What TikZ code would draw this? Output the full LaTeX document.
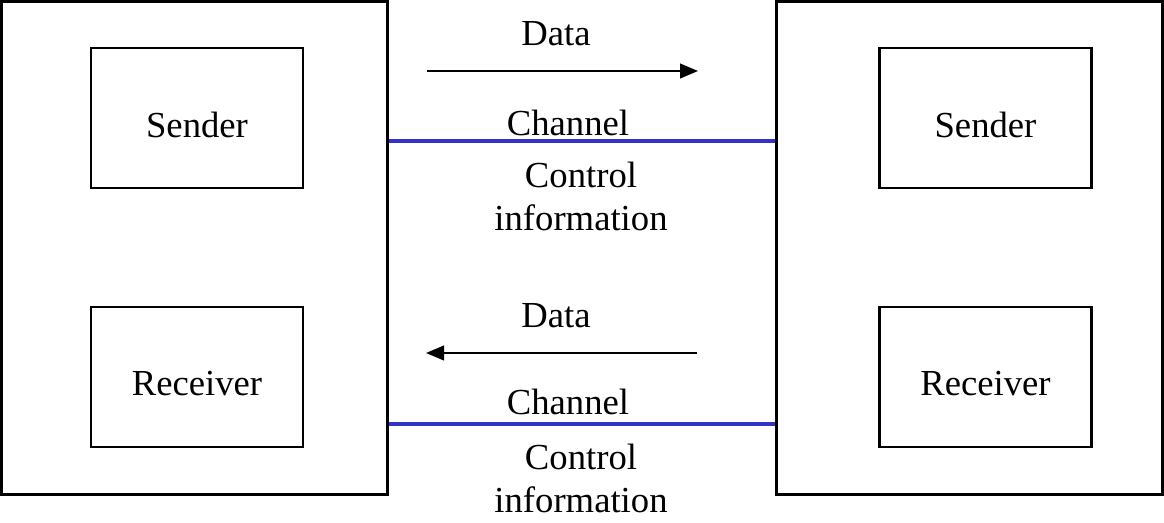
\documentclass[tikz,border=0pt]{standalone}
\usepackage{fontspec}
\setmainfont{Liberation Serif}
\usetikzlibrary{arrows.meta}
\begin{document}
\begin{tikzpicture}[x=0.75pt,y=-0.75pt,
  every node/.style={font=\fontsize{27.5}{32.5}\selectfont, inner sep=0pt},
  outer/.style={draw, line width=2.2pt, minimum width=386*0.75pt, minimum height=493*0.75pt},
  inner/.style={draw, line width=2.2pt, minimum width=212*0.75pt, minimum height=140*0.75pt},
  chan/.style={draw={rgb,255:red,51;green,51;blue,204}, line width=2.4pt},
  flow/.style={line width=1.5pt, -{Triangle[length=13.5pt,width=11pt]}},
  lbl/.style={align=center}]
\useasboundingbox (0,0) rectangle (1164,523);
\node[outer] (lout) at (194.5,248) {};
\node[outer] (rout) at (969.5,248) {};
\node[inner] (ls) at (197,118) {};
\node (lst) at (197,125) {Sender};
\node[inner] (lr) at (197,377) {};
\node (lrt) at (197,383.5) {Receiver};
\node[inner] (rs) at (985.5,118) {};
\node (rst) at (985.5,125) {Sender};
\node[inner] (rr) at (985.5,377) {};
\node (rrt) at (985.5,383.5) {Receiver};
% labels
\node (d1) at (556,33.5) {Data};
\node (c1) at (568,122.5) {Channel};
\node[lbl] (i1) at (581,196.5) {Control\\information};
\node (d2) at (556,315.5) {Data};
\node (c2) at (568,401.5) {Channel};
\node[lbl] (i2) at (581,478.5) {Control\\information};
% channel lines
\coordinate (y1) at (0,141);
\coordinate (y2) at (0,424);
\draw[chan] (lout.east |- y1) -- (rout.west |- y1);
\draw[chan] (lout.east |- y2) -- (rout.west |- y2);
% data arrows
\coordinate (a1s) at (427,71);
\coordinate (a1e) at (698,71);
\coordinate (a2s) at (697,353);
\coordinate (a2e) at (426,353);
\draw[flow] (a1s) -- (a1e);
\draw[flow] (a2s) -- (a2e);
\end{tikzpicture}
\end{document}
